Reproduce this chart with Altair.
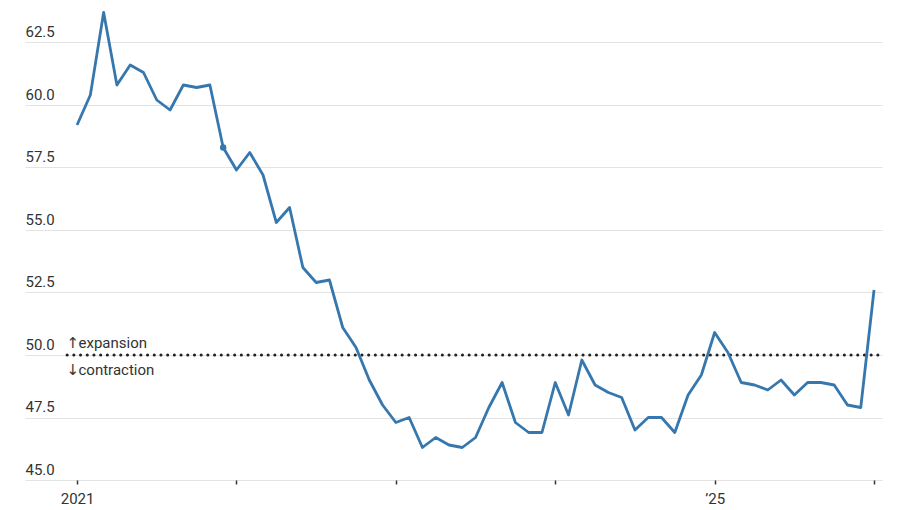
import altair as alt
import pandas as pd

# --- data (ISM manufacturing PMI, monthly) ---
months = [
    "2021-01", "2021-02", "2021-03", "2021-04", "2021-05", "2021-06",
    "2021-07", "2021-08", "2021-09", "2021-10", "2021-11", "2021-12",
    "2022-01", "2022-02", "2022-03", "2022-04", "2022-05", "2022-06",
    "2022-07", "2022-08", "2022-09", "2022-10", "2022-11", "2022-12",
    "2023-01", "2023-02", "2023-03", "2023-04", "2023-05", "2023-06",
    "2023-07", "2023-08", "2023-09", "2023-10", "2023-11", "2023-12",
    "2024-01", "2024-02", "2024-03", "2024-04", "2024-05", "2024-06",
    "2024-07", "2024-08", "2024-09", "2024-10", "2024-11", "2024-12",
    "2025-01", "2025-02", "2025-03", "2025-04", "2025-05", "2025-06",
    "2025-07", "2025-08", "2025-09", "2025-10", "2025-11", "2025-12",
    "2026-01",
]
pmi = [
    59.2, 60.4, 63.7, 60.8, 61.6, 61.3, 60.2, 59.8, 60.8, 60.7, 60.8, 58.3,
    57.4, 58.1, 57.2, 55.3, 55.9, 53.5, 52.9, 53.0, 51.1, 50.3, 49.0, 48.0,
    47.3, 47.5, 46.3, 46.7, 46.4, 46.3, 46.7, 47.9, 48.9, 47.3, 46.9, 46.9,
    48.9, 47.6, 49.8, 48.8, 48.5, 48.3, 47.0, 47.5, 47.5, 46.9, 48.4, 49.2,
    50.9, 50.1, 48.9, 48.8, 48.6, 49.0, 48.4, 48.9, 48.9, 48.8, 48.0, 47.9,
    52.6,
]
y_ticks = [45.0, 47.5, 50.0, 52.5, 55.0, 57.5, 60.0, 62.5]
year_tick_months = ["2021-01", "2022-01", "2023-01", "2024-01", "2025-01", "2026-01"]
year_tick_labels = ["2021", "", "", "", "\u201925", ""]
highlight_month = "2021-12"
threshold = 50.0
annotation_arrows = ["\u2191", "\u2193"]
annotation_texts = ["expansion", "contraction"]
annotation_values = [50.5, 49.4]

# --- tables built from the arrays ---
idx = {m: i for i, m in enumerate(months)}
df = pd.DataFrame({"i": list(range(len(months))), "month": months, "pmi": pmi})
tick_pos = [idx[m] for m in year_tick_months]
label_map = {idx[m]: l for m, l in zip(year_tick_months, year_tick_labels)}
label_expr = " : ".join(
    [f"datum.value == {k} ? '{v}'" for k, v in label_map.items() if v] + ["''"]
)

x_domain = [-3.92, 60.6]
x_scale = alt.Scale(domain=x_domain, nice=False, zero=False)
y_scale = alt.Scale(domain=[45, 63.8], nice=False, zero=False)
FONT = "Roboto"
TEXT = "#333333"
BLUE = "#3677ad"

x_axis = alt.Axis(
    values=tick_pos, labelExpr=label_expr, grid=False, domain=False,
    ticks=True, tickSize=4, tickColor=TEXT, tickWidth=1.5,
    labelFontSize=15, labelColor=TEXT, labelPadding=7, title=None,
    labelFont=FONT, labelOverlap=False,
)
y_axis = alt.Axis(
    values=y_ticks, format=".1f", labelAlign="left", labelBaseline="bottom",
    labelPadding=0, tickSize=0, domain=False, gridColor="#e3e3e3",
    gridWidth=1, labelOffset=-3, title=None, labelFontSize=15,
    labelColor=TEXT, labelFont=FONT,
)

base = alt.Chart(df)
line = base.mark_line(color=BLUE, strokeWidth=2.8, strokeJoin="round").encode(
    x=alt.X("i:Q", scale=x_scale, axis=x_axis),
    y=alt.Y("pmi:Q", scale=y_scale, axis=y_axis),
)
dot = alt.Chart(df[df["month"] == highlight_month]).mark_circle(
    color=BLUE, size=42, opacity=1
).encode(x=alt.X("i:Q", scale=x_scale), y=alt.Y("pmi:Q", scale=y_scale))

rule_df = pd.DataFrame({"x": [-0.75], "x2": [x_domain[1]], "y": [threshold]})
rule = alt.Chart(rule_df).mark_rule(
    color="#222222", strokeWidth=3, strokeDash=[0.1, 6.6], strokeCap="round"
).encode(
    x=alt.X("x:Q", scale=x_scale), x2="x2:Q", y=alt.Y("y:Q", scale=y_scale)
)

ann_df = pd.DataFrame({
    "x": [-0.72, -0.72], "y": annotation_values,
    "a": annotation_arrows, "t": annotation_texts,
})
arrows = alt.Chart(ann_df).mark_text(
    align="left", baseline="middle", fontSize=15, color=TEXT, font="DejaVu Sans",
    dx=-1,
).encode(x=alt.X("x:Q", scale=x_scale), y=alt.Y("y:Q", scale=y_scale), text="a:N")
words = alt.Chart(ann_df).mark_text(
    align="left", baseline="middle", fontSize=15, color=TEXT, font=FONT, dx=11,
).encode(x=alt.X("x:Q", scale=x_scale), y=alt.Y("y:Q", scale=y_scale), text="t:N")

chart = (
    alt.layer(rule, line, dot, arrows, words)
    .properties(
        width=857, height=470,
        autosize=alt.AutoSizeParams(type="none"),
        padding={"left": 17, "top": 2, "right": 10, "bottom": 28},
        background="white",
    )
    .configure_view(stroke=None)
)

chart.save("out.html", embed_options={"renderer": "svg", "actions": False})
